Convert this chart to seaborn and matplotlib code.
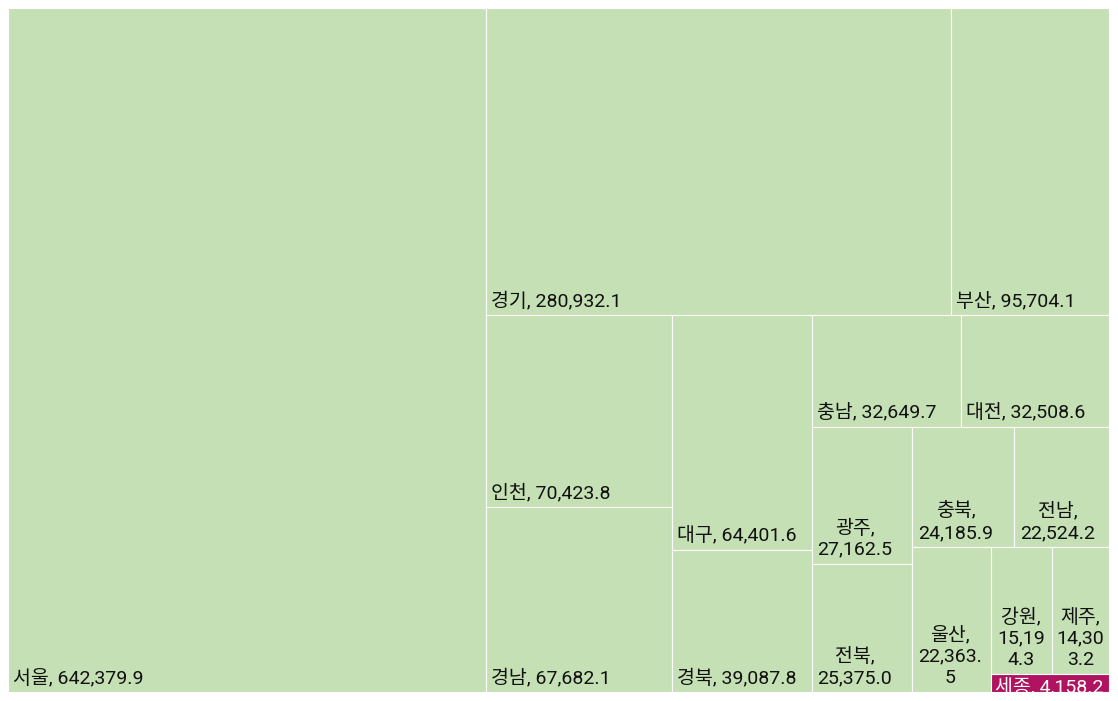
import matplotlib
matplotlib.use("Agg")
import matplotlib.pyplot as plt
import seaborn as sns
from matplotlib.patches import Rectangle

regions = ["서울", "경기", "부산", "인천", "경남", "대구", "경북", "충남", "대전",
           "광주", "전북", "충북", "전남", "울산", "강원", "제주", "세종"]
values = [642379.9, 280932.1, 95704.1, 70423.8, 67682.1, 64401.6, 39087.8, 32649.7,
          32508.6, 27162.5, 25375.0, 24185.9, 22524.2, 22363.5, 15194.3, 14303.2, 4158.2]
highlight = "세종"

sns.set_theme(style="white")
plt.rcParams['font.family'] = ['Roboto', 'Noto Sans CJK KR', 'DejaVu Sans']

# layout space (data units of the axes)
W, H = 1102.0, 682.0
RATIO = 1.103


# ---- squarified treemap layout (d3-style squarifyRatio) ----
def squarify(vals, x0, y0, x1, y1, ratio):
    out = []
    n = len(vals)
    value = float(sum(vals))
    i0 = i1 = 0
    while i0 < n:
        dx, dy = x1 - x0, y1 - y0
        sumv = vals[i1]
        i1 += 1
        minv = maxv = sumv
        alpha = max(dy / dx, dx / dy) / (value * ratio)
        beta = sumv * sumv * alpha
        min_ratio = max(maxv / beta, beta / minv)
        while i1 < n:
            nv = vals[i1]
            sumv += nv
            minv = min(minv, nv)
            maxv = max(maxv, nv)
            beta = sumv * sumv * alpha
            new_ratio = max(maxv / beta, beta / minv)
            if new_ratio > min_ratio:
                sumv -= nv
                break
            min_ratio = new_ratio
            i1 += 1
        row = vals[i0:i1]
        if dx < dy:  # dice: horizontal row at top
            ny = y0 + dy * sumv / value
            xx = x0
            for v in row:
                w = dx * v / sumv
                out.append((xx, y0, w, ny - y0))
                xx += w
            y0 = ny
        else:  # slice: vertical column at left
            nx = x0 + dx * sumv / value
            yy = y0
            for v in row:
                h = dy * v / sumv
                out.append((x0, yy, nx - x0, h))
                yy += h
            x0 = nx
        value -= sumv
        i0 = i1
    return out


rects = squarify(values, 0.0, 0.0, W, H, RATIO)

PW, PH = 1101.0, 684.0  # pixel size of plot area
fig = plt.figure(figsize=(11.18, 7.01), dpi=100)
ax = fig.add_axes([8 / 1118, 9 / 701, PW / 1118, PH / 701])
ax.set_xlim(0, W)
ax.set_ylim(H, 0)
ax.axis("off")
sx, sy = W / PW, H / PH  # data units per pixel

green = "#C5E0B4"
magenta = "#B0135F"
fs = 14
pad = 6
renderer = fig.canvas.get_renderer()


def text_width(s):
    t = ax.text(0, 0, s, fontsize=fs)
    w = t.get_window_extent(renderer).width
    t.remove()
    return w


def wrap(label, avail):
    words = label.split(" ")
    lines = []
    cur = ""
    for w in words:
        cand = (cur + " " + w) if cur else w
        if text_width(cand) <= avail:
            cur = cand
            continue
        if cur:
            lines.append(cur)
            cur = ""
        if text_width(w) <= avail:
            cur = w
        else:
            for ch in w:
                if text_width(cur + ch) <= avail or not cur:
                    cur += ch
                else:
                    lines.append(cur)
                    cur = ch
    if cur:
        lines.append(cur)
    return lines


for name, v, (x, y, dx, dy) in zip(regions, values, rects):
    is_hl = name == highlight
    rect = Rectangle((x, y), dx, dy, facecolor=magenta if is_hl else green,
                     edgecolor="white", linewidth=0.8)
    ax.add_patch(rect)
    label = f"{name}, {v:,.1f}"
    if is_hl:
        t = ax.text(x + 4 * sx, y + 3.5 * sy, label, fontsize=fs, color="white",
                    ha="left", va="top")
        t.set_clip_path(rect)
        continue
    wpx = dx / sx
    lines = wrap(label, wpx - 9)
    if len(lines) == 1:
        ax.text(x + 5 * sx, y + dy - 5 * sy, lines[0], fontsize=fs, color="#111111",
                ha="left", va="bottom")
    else:
        widest = max(text_width(s) for s in lines)
        left = max(5, (wpx - widest) / 2 if wpx < 70 else 6)
        ax.text(x + (left + widest / 2) * sx, y + dy - 5 * sy, "\n".join(lines),
                fontsize=fs, color="#111111", ha="center", va="bottom",
                multialignment="center", linespacing=1.25)

fig.savefig("out.png", dpi=100, facecolor="white")
